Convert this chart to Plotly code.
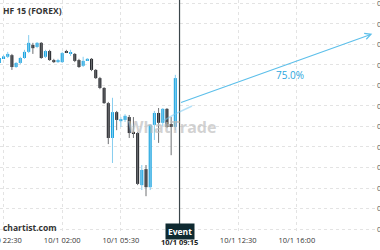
import plotly.graph_objects as go
import pandas as pd

# ---- data (15-minute candles) ----
times = pd.date_range("2015-09-30 22:15", "2015-10-01 08:45", freq="15min")
open_ = [0.97805, 0.97817, 0.97820, 0.97824, 0.97795, 0.97805, 0.97817,
         0.97832, 0.97849, 0.97844, 0.97854, 0.97820, 0.97834, 0.97812, 0.97807,
         0.97807, 0.97832, 0.97829, 0.97827, 0.97812, 0.97798, 0.97811, 0.97815,
         0.97788, 0.97768, 0.97744, 0.97707, 0.97622, 0.97685, 0.97663, 0.97666,
         0.97673, 0.97637, 0.97634, 0.97507, 0.97546, 0.97502, 0.97654, 0.97683,
         0.97659, 0.97693, 0.97656, 0.97649]
high = [0.97822, 0.97824, 0.97832, 0.97827, 0.97807, 0.97820, 0.97837,
        0.97873, 0.97854, 0.97856, 0.97856, 0.97837, 0.97837, 0.97815, 0.97815,
        0.97832, 0.97837, 0.97837, 0.97829, 0.97815, 0.97820, 0.97817, 0.97817,
        0.97790, 0.97771, 0.97746, 0.97710, 0.97720, 0.97688, 0.97673, 0.97680,
        0.97678, 0.97673, 0.97637, 0.97556, 0.97556, 0.97656, 0.97688, 0.97695,
        0.97695, 0.97695, 0.97673, 0.97776]
low = [0.97802, 0.97815, 0.97817, 0.97788, 0.97793, 0.97802, 0.97815,
       0.97829, 0.97827, 0.97841, 0.97815, 0.97817, 0.97810, 0.97805, 0.97805,
       0.97805, 0.97829, 0.97822, 0.97807, 0.97793, 0.97795, 0.97810, 0.97785,
       0.97766, 0.97741, 0.97705, 0.97607, 0.97561, 0.97641, 0.97649, 0.97661,
       0.97622, 0.97622, 0.97507, 0.97495, 0.97480, 0.97495, 0.97617, 0.97610,
       0.97651, 0.97646, 0.97580, 0.97641]
close = [0.97817, 0.97821, 0.97827, 0.97795, 0.97805, 0.97817, 0.97832,
         0.97854, 0.97841, 0.97854, 0.97817, 0.97834, 0.97812, 0.97807, 0.97812,
         0.97829, 0.97830, 0.97830, 0.97810, 0.97795, 0.97810, 0.97815, 0.97788,
         0.97768, 0.97744, 0.97707, 0.97622, 0.97685, 0.97666, 0.97668, 0.97676,
         0.97634, 0.97634, 0.97510, 0.97544, 0.97502, 0.97654, 0.97683, 0.97659,
         0.97693, 0.97649, 0.97649, 0.97768]

event_time = "2015-10-01 09:00"
event_label = "10/1 09:15"
forecast_start = ("2015-10-01 09:00", 0.97707)
forecast_end = ("2015-10-01 20:30", 0.97876)
forecast_text = "75.0%"
forecast_text_pos = ("2015-10-01 15:37", 0.97776)

tick_times = ["2015-09-30 22:30", "2015-10-01 02:00", "2015-10-01 05:30",
              "2015-10-01 12:30", "2015-10-01 16:00"]
tick_labels = ["9/30 22:30", "10/1 02:00", "10/1 05:30", "10/1 12:30", "10/1 16:00"]

title_text = "HF 15 (FOREX)"
brand_text = "chartist.com"
watermark_text = "WhatTrade"

BLUE = "#1ea5e0"
BLUE_WICK = "#86cdef"
DARK = "#2a2c31"
DARK_WICK = "#6e7073"
MIN_BODY = 0.00002

# wicks and bodies split by direction
up = dict(wx=[], wy=[], bx=[], base=[], h=[])
dn = dict(wx=[], wy=[], bx=[], base=[], h=[])
for t, o, hi, lo, c in zip(times, open_, high, low, close):
    g = up if c >= o else dn
    g["wx"] += [t, t, None]
    g["wy"] += [lo, hi, None]
    g["bx"].append(t)
    g["base"].append(min(o, c))
    g["h"].append(max(abs(c - o), MIN_BODY))

fig = go.Figure()
for g, wc, bc in ((up, BLUE_WICK, BLUE), (dn, DARK_WICK, DARK)):
    fig.add_trace(go.Scatter(x=g["wx"], y=g["wy"], mode="lines",
                             line=dict(color=wc, width=1), hoverinfo="skip"))
for g, wc, bc in ((up, BLUE_WICK, BLUE), (dn, DARK_WICK, DARK)):
    fig.add_trace(go.Bar(x=g["bx"], y=g["h"], base=g["base"], width=660000,
                         marker=dict(color=bc, line=dict(width=0)), hoverinfo="skip"))

# event line
fig.add_shape(type="line", x0=event_time, x1=event_time, y0=0, y1=1,
              xref="x", yref="paper", line=dict(color="#3b464b", width=1.2))

# watermark logo swoosh
fig.add_shape(type="path", xref="paper", yref="paper",
              path="M 0.4335 0.4829 L 0.465 0.512 L 0.5106 0.547",
              line=dict(color="rgba(120,200,240,0.55)", width=1.5))

annotations = [
    dict(x=forecast_end[0], y=forecast_end[1], ax=forecast_start[0], ay=forecast_start[1],
         xref="x", yref="y", axref="x", ayref="y", text="", showarrow=True,
         arrowhead=5, arrowsize=1.1, arrowwidth=1.1, arrowcolor="#5cbfea"),
    dict(x=forecast_text_pos[0], y=forecast_text_pos[1], xref="x", yref="y",
         text=forecast_text, showarrow=False,
         font=dict(family="Open Sans", size=10, color="#2aa5dd")),
    dict(x=event_time, y=0.011, xref="x", yref="paper", text="<b>Event</b>",
         showarrow=False, bgcolor="#0f2a31", borderpad=2, yanchor="middle",
         font=dict(family="Open Sans", size=8.5, color="white")),
    dict(x=event_time, y=-0.034, xref="x", yref="paper", text="<b>" + event_label + "</b>",
         showarrow=False, yanchor="middle",
         font=dict(family="Open Sans", size=7.5, color="#222")),
    dict(x=0.003, y=0.957, xref="paper", yref="paper", text="<b>" + title_text + "</b>",
         showarrow=False, xanchor="left", yanchor="middle",
         font=dict(family="Open Sans", size=8.5, color="#333")),
    dict(x=0.003, y=0.026, xref="paper", yref="paper", text="<b>" + brand_text + "</b>",
         showarrow=False, xanchor="left", yanchor="middle",
         font=dict(family="Open Sans", size=8.5, color="#333")),
    dict(x=0.458, y=0.457, xref="paper", yref="paper", text="<b>" + watermark_text + "</b>",
         showarrow=False, xanchor="center", yanchor="middle",
         font=dict(family="Open Sans", size=16, color="rgba(190,190,190,0.7)")),
]

fig.update_layout(
    width=380, height=250,
    margin=dict(l=0, r=4, t=0, b=16, autoexpand=False),
    paper_bgcolor="white", plot_bgcolor="white",
    showlegend=False, barmode="overlay",
    annotations=annotations,
    font=dict(family="Open Sans", size=7.5, color="#333"),
    xaxis=dict(type="date", range=["2015-09-30 22:17:20", "2015-10-01 20:43:20"],
               tickvals=tick_times, ticktext=tick_labels, automargin=False,
               ticklabeloverflow="allow",
               showgrid=True, gridcolor="#e3e3e3", griddash="dot", gridwidth=1,
               zeroline=False, showline=False, ticks="",
               tickfont=dict(family="Open Sans", size=7.5, color="#333")),
    yaxis=dict(side="right", range=[0.973878, 0.979585], tick0=0.974, dtick=0.0005,
               tickformat=".4f", showgrid=True, gridcolor="#e3e3e3", griddash="dot",
               zeroline=False, showline=False, ticks="", automargin=False,
               ticklabeloverflow="allow",
               tickfont=dict(family="Open Sans", size=7.5, color="#555")),
)

fig.write_html("out.html")
